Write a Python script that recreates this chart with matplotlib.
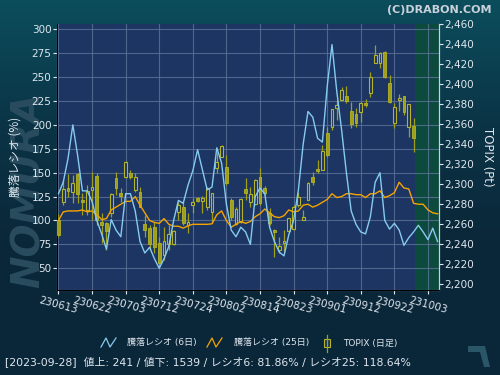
import matplotlib
matplotlib.use("Agg")
import matplotlib.pyplot as plt
import numpy as np
from matplotlib.lines import Line2D
from matplotlib.patches import Rectangle, Polygon
from matplotlib.colors import LinearSegmentedColormap

plt.rcParams['font.family'] = ['DejaVu Sans', 'Noto Sans CJK JP']

# --- data -----------------------------------------------------------------
tick_labels = ["230613", "230622", "230703", "230712", "230724", "230802",
               "230814", "230823", "230901", "230912", "230922", "231003"]
tick_days = [0, 7, 14, 21, 28, 35, 42, 49, 56, 63, 70, 77]

# advance/decline ratio, 6-day and 25-day (%)
ratio6 = [128, 140, 165, 200, 168, 131, 131, 120, 100, 86,
          70, 101, 90, 83, 128, 128, 110, 78, 66, 72,
          60, 50, 60, 73, 100, 121, 118, 137, 152, 174,
          153, 132, 135, 176, 160, 117, 90, 83, 93, 88,
          75, 125, 134, 128, 93, 78, 67, 63, 85, 100,
          132, 180, 214, 208, 186, 182, 240, 284, 235, 195,
          150, 110, 96, 88, 86, 104, 140, 150, 100, 91,
          97, 90, 74, 82, 88, 95, 88, 80, 92, 78]
ratio25 = [100, 109, 110, 110, 110, 111, 109, 110, 106, 101,
           102, 111, 114, 117, 120, 120, 125, 116, 108, 100,
           98, 97, 102, 96, 94, 94, 92, 94.5, 96, 96,
           96, 96, 96.5, 106, 110, 100, 93, 96, 99, 97,
           99, 104, 107, 112, 108, 104, 103, 105, 111, 109,
           110, 116, 117, 114, 116, 119, 122, 128, 124, 125,
           128, 128, 127, 127, 124, 128, 128, 131, 124, 126,
           129, 140, 134, 133, 118, 117, 117, 111, 108, 107]

# TOPIX daily candles
t_open = [2264, 2282, 2296, 2292, 2310, 2284, 2274, 2294, 2308, 2262,
          2261, 2271, 2306, 2291, 2307, 2311, 2294, 2292, 2260, 2256,
          2257, 2241, 2229, 2240, 2240, 2272, 2277, 2259, 2279, 2286,
          2283, 2277, 2272, 2316, 2327, 2317, 2284, 2260, 2262, 2295,
          2282, 2280, 2307, 2296, 2271, 2254, 2234, 2241, 2253, 2255,
          2279, 2264, 2284, 2307, 2315, 2314, 2351, 2357, 2376, 2384,
          2388, 2373, 2370, 2372, 2381, 2391, 2421, 2421, 2432, 2401,
          2361, 2384, 2388, 2357, 2358]
t_high = [2270, 2304, 2310, 2309, 2311, 2291, 2299, 2312, 2311, 2271,
          2262, 2291, 2312, 2296, 2323, 2314, 2311, 2297, 2269, 2259,
          2262, 2247, 2257, 2259, 2254, 2282, 2282, 2271, 2286, 2287,
          2288, 2297, 2291, 2332, 2339, 2329, 2286, 2277, 2286, 2306,
          2297, 2305, 2316, 2298, 2276, 2255, 2247, 2254, 2266, 2279,
          2292, 2274, 2302, 2312, 2324, 2339, 2357, 2375, 2384, 2397,
          2398, 2382, 2376, 2382, 2385, 2412, 2439, 2432, 2433, 2409,
          2381, 2390, 2388, 2380, 2366]
t_low = [2247, 2279, 2287, 2281, 2281, 2269, 2269, 2264, 2259, 2241,
         2234, 2267, 2289, 2282, 2306, 2305, 2292, 2277, 2247, 2234,
         2231, 2217, 2224, 2234, 2239, 2264, 2259, 2251, 2271, 2282,
         2271, 2274, 2261, 2311, 2327, 2299, 2264, 2259, 2261, 2284,
         2277, 2279, 2279, 2289, 2259, 2227, 2231, 2232, 2252, 2254,
         2277, 2264, 2284, 2299, 2311, 2314, 2327, 2354, 2364, 2384,
         2381, 2356, 2357, 2362, 2377, 2387, 2421, 2416, 2406, 2381,
         2356, 2373, 2369, 2347, 2332]
t_close = [2249, 2295, 2293, 2301, 2290, 2282, 2293, 2297, 2264, 2259,
           2253, 2290, 2296, 2288, 2322, 2307, 2307, 2277, 2254, 2240,
           2237, 2221, 2243, 2250, 2253, 2279, 2261, 2262, 2282, 2283,
           2286, 2296, 2291, 2322, 2338, 2301, 2267, 2275, 2285, 2291,
           2290, 2304, 2281, 2291, 2261, 2252, 2238, 2243, 2266, 2277,
           2287, 2267, 2301, 2302, 2313, 2333, 2329, 2375, 2379, 2394,
           2383, 2360, 2361, 2381, 2379, 2407, 2429, 2431, 2407, 2382,
           2377, 2386, 2372, 2380, 2346]

# --- colours ----------------------------------------------------------------
BG = "#0a2739"
PLOT_BG = "#1c3562"
FUTURE_BG = "#0b4a3c"
GRID = "#5f7399"
TXT = "#dfe6ee"
BLUE = "#86cbef"
ORANGE = "#f5a300"
OLIVE = "#9f9f18"
OLIVE_EDGE = "#b4b428"

W, H = 500, 375
fig = plt.figure(figsize=(5, 3.75), dpi=100)
fig.patch.set_facecolor(BG)


def fx(px):
    return px / W


def fy(py):
    return 1 - py / H


# background gradient (teal at the top)
bg = fig.add_axes([0, 0, 1, 1], zorder=-10)
bg.axis("off")
grad = np.linspace(0, 1, 120).reshape(-1, 1)
cmap = LinearSegmentedColormap.from_list("bg", ["#0c4d5c", "#0a3446", BG, BG])
bg.imshow(grad, aspect="auto", cmap=cmap, extent=[0, 1, 0, 1])
bg.set_xlim(0, 1)
bg.set_ylim(0, 1)

# watermarks
fig.text(fx(29), fy(190), "NOMURA", rotation=90, fontsize=28, fontweight="bold",
         style="italic", color="#294c5e", ha="center", va="center", zorder=-5)
fig.add_artist(Polygon([(fx(468), fy(346)), (fx(485), fy(346)), (fx(490), fy(367)),
                        (fx(484), fy(367)), (fx(480), fy(352)), (fx(468), fy(352))],
                       closed=True, transform=fig.transFigure,
                       facecolor="#2a5668", edgecolor="none", zorder=-5))

rect = [fx(57), fy(290), fx(439) - fx(57), fy(24) - fy(290)]
ax = fig.add_axes(rect)
ax.set_facecolor(PLOT_BG)
XMIN, XMAX = -0.3, 79.3
ax.set_xlim(XMIN, XMAX)
ax.set_ylim(27.3, 305.5)
ax.axvspan(74.2, XMAX, color=FUTURE_BG, lw=0)
ax.set_yticks([50, 75, 100, 125, 150, 175, 200, 225, 250, 275, 300])
ax.set_xticks(tick_days)
ax.set_xticklabels(tick_labels, rotation=-15, ha="center", va="top")
ax.grid(True, color=GRID, lw=0.8, alpha=0.8)
ax.tick_params(colors=TXT, labelsize=7.5, length=3, width=0.8, pad=1)
ax.spines["top"].set_visible(False)
for s in ["left", "right", "bottom"]:
    ax.spines[s].set_color("#c8d2dc")
ax.set_ylabel("騰落レシオ (%)", color=TXT, fontsize=8.5, labelpad=7,
              family=['Noto Sans CJK JP', 'DejaVu Sans'])

# candles
axt = ax.twinx()
axt.set_ylim(2194, 2460)
axt.set_xlim(XMIN, XMAX)
axt.set_yticks(np.arange(2200, 2461, 20))
axt.set_yticklabels([f"{v:,}" for v in range(2200, 2461, 20)])
axt.tick_params(colors=TXT, labelsize=7.5, length=3, width=0.8, pad=1)
axt.spines["top"].set_visible(False)
axt.spines["right"].set_color("#c8d2dc")
axt.set_ylabel("TOPIX (Pt)", color=TXT, fontsize=8.5, rotation=270, labelpad=14)
days = np.arange(len(t_open))
o = np.array(t_open); c = np.array(t_close)
axt.vlines(days, t_low, t_high, color=OLIVE, lw=0.9, zorder=2)
up = c >= o
axt.bar(days[up], (c - o)[up], bottom=o[up], width=0.6, color=PLOT_BG,
        edgecolor=OLIVE_EDGE, linewidth=0.8, zorder=3)
axt.bar(days[~up], (o - c)[~up], bottom=c[~up], width=0.6, color=OLIVE,
        edgecolor=OLIVE_EDGE, linewidth=0.6, zorder=3)

# ratio lines on top
axl = ax.twinx()
axl.set_ylim(ax.get_ylim())
axl.set_xlim(XMIN, XMAX)
axl.axis("off")
xr = np.arange(len(ratio6))
axl.plot(xr, ratio25, color=ORANGE, lw=1.0)
axl.plot(xr, ratio6, color=BLUE, lw=1.0)

# copyright
fig.text(fx(492), fy(10), "(C)DRABON.COM", color="#c9d2da", fontsize=8,
         fontweight="bold", ha="right", va="center")

# legend
ly = 343
fig.add_artist(Line2D([fx(101), fx(106), fx(110), fx(116)],
                      [fy(ly + 4), fy(ly - 5), fy(ly + 4), fy(ly - 5)],
                      color=BLUE, lw=0.9))
fig.text(fx(127), fy(ly), "騰落レシオ (6日)", color=TXT, fontsize=6.5, va="center")
fig.add_artist(Line2D([fx(207), fx(212), fx(216), fx(222)],
                      [fy(ly + 4), fy(ly - 5), fy(ly + 4), fy(ly - 5)],
                      color=ORANGE, lw=0.9))
fig.text(fx(234), fy(ly), "騰落レシオ (25日)", color=TXT, fontsize=6.5, va="center")
fig.add_artist(Line2D([fx(326.5), fx(326.5)], [fy(ly + 9), fy(ly - 8)], color=OLIVE, lw=0.9))
fig.add_artist(Rectangle((fx(323.5), fy(ly + 4)), fx(6), fy(0) - fy(8),
                         transform=fig.transFigure, facecolor="#1c3562",
                         edgecolor=OLIVE_EDGE, lw=0.8))
fig.text(fx(343), fy(ly), "TOPIX (日足)", color=TXT, fontsize=6.5, va="center")

fig.text(fx(5), fy(362), "[2023-09-28]  値上: 241 / 値下: 1539 / レシオ6: 81.86% / レシオ25: 118.64%",
         color=TXT, fontsize=7.8, va="center")

fig.savefig("out.png", dpi=100, facecolor=fig.get_facecolor())
